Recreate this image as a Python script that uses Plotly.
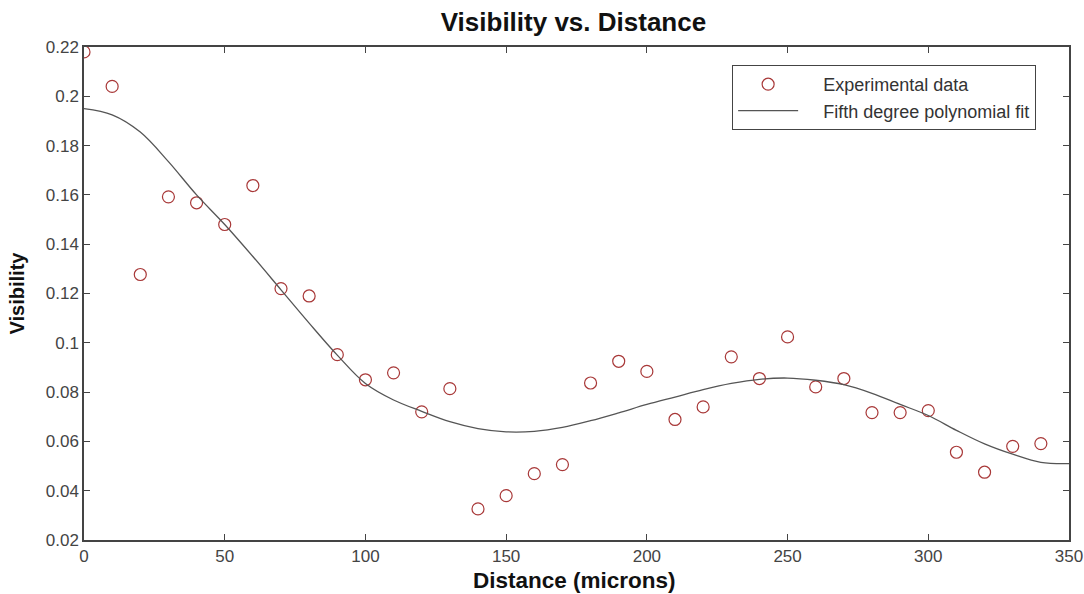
import plotly.graph_objects as go

# Experimental data
distance = [0, 10, 20, 30, 40, 50, 60, 70, 80, 90, 100, 110, 120, 130, 140, 150, 160, 170,
            180, 190, 200, 210, 220, 230, 240, 250, 260, 270, 280, 290, 300, 310, 320, 330, 340]
visibility = [0.218, 0.204, 0.1277, 0.1592, 0.1568, 0.148, 0.1638, 0.122, 0.119, 0.0952, 0.085,
              0.0878, 0.072, 0.0814, 0.0326, 0.038, 0.0469, 0.0506, 0.0837, 0.0925, 0.0884,
              0.0689, 0.074, 0.0943, 0.0855, 0.1024, 0.0821, 0.0855, 0.0717, 0.0717, 0.0725,
              0.0556, 0.0475, 0.058, 0.0591]

# Fifth degree polynomial fit
fit_x = [0, 10, 20, 30, 40, 50, 60, 70, 80, 90, 100, 110, 120, 130, 140, 150, 160, 170, 180,
         190, 200, 210, 220, 230, 240, 250, 260, 270, 280, 290, 300, 310, 320, 330, 340, 350]
fit_y = [0.195, 0.1925, 0.1855, 0.1735, 0.160, 0.148, 0.135, 0.1215, 0.108, 0.095, 0.0835,
         0.0768, 0.0722, 0.068, 0.0652, 0.0639, 0.0641, 0.0657, 0.0684, 0.0716, 0.075, 0.078,
         0.081, 0.0835, 0.0852, 0.0857, 0.0848, 0.083, 0.0795, 0.075, 0.0705, 0.0645, 0.059,
         0.0548, 0.0515, 0.051]

x_ticks = [0, 50, 100, 150, 200, 250, 300, 350]
y_ticks = [0.02, 0.04, 0.06, 0.08, 0.1, 0.12, 0.14, 0.16, 0.18, 0.2, 0.22]
y_tick_text = ["0.02", "0.04", "0.06", "0.08", "0.1", "0.12", "0.14", "0.16", "0.18", "0.2", "0.22"]

series_names = ["Experimental data", "Fifth degree polynomial fit"]
title_text = "Visibility vs. Distance"
x_title = "Distance (microns)"
y_title = "Visibility"

FONT = "Liberation Sans, Arial, sans-serif"
PAD = "\u00a0\u00a0\u00a0\u00a0"

fig = go.Figure()
fig.add_trace(go.Scatter(
    x=distance, y=visibility, mode="markers", name=PAD + series_names[0],
    marker=dict(symbol="circle-open", size=12, color="#a83838", line=dict(width=1.2)),
))
fig.add_trace(go.Scatter(
    x=fit_x, y=fit_y, mode="lines", name=PAD + series_names[1],
    line=dict(color="#555555", width=1.3, shape="spline"),
))

axis_common = dict(
    showgrid=False, zeroline=False, showline=True, linecolor="#444444", linewidth=1.5,
    mirror="ticks", ticks="inside", ticklen=6, tickcolor="#444444", tickwidth=1.2,
    automargin=False,
    tickfont=dict(family=FONT, size=17, color="#444444"),
)

fig.update_layout(
    width=1084, height=594,
    paper_bgcolor="white", plot_bgcolor="white",
    margin=dict(l=84, r=15, t=47, b=54),
    title=dict(text="<b>" + title_text + "</b>", x=0.529, xanchor="center", y=0.963, yanchor="middle",
               font=dict(family=FONT, size=26, color="#111111")),
    xaxis=dict(range=[0, 350], tickvals=x_ticks, **axis_common),
    yaxis=dict(range=[0.02, 0.22], tickvals=y_ticks, ticktext=y_tick_text,
               title=dict(text="<b>" + y_title + "</b>", standoff=16,
                          font=dict(family=FONT, size=20, color="#111111")),
               **axis_common),
    legend=dict(x=0.658, y=0.9635, xanchor="left", yanchor="top",
                bordercolor="#444444", borderwidth=1, bgcolor="white",
                itemwidth=60, tracegroupgap=0,
                font=dict(family=FONT, size=18, color="#333333")),
    showlegend=True,
)
fig.add_annotation(
    text="<b>" + x_title + "</b>", xref="paper", yref="paper", x=0.4975, y=-0.083,
    xanchor="center", yanchor="middle", showarrow=False,
    font=dict(family=FONT, size=22.5, color="#111111"),
)

fig.write_html("out.html",
               config={"displayModeBar": False},
               post_script="document.body.style.margin='0';document.body.style.overflow='hidden';")
